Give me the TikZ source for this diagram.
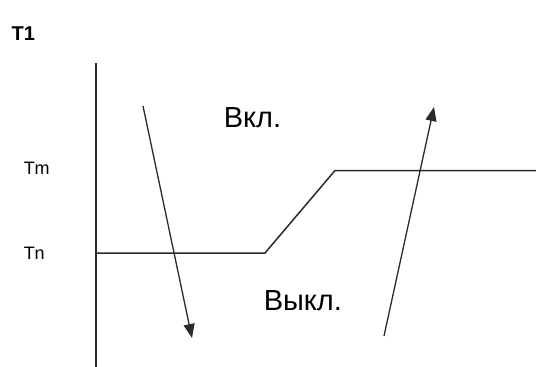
\documentclass[tikz,border=0pt]{standalone}
\usepackage{fontspec}
\setmainfont{Liberation Sans}
\usetikzlibrary{arrows.meta,positioning,calc}
\definecolor{LineGray}{HTML}{2A2A2A}

\begin{document}
\begin{tikzpicture}[x=1pt,y=-1pt,>={Triangle[length=14pt,width=11pt]},line width=1.5pt]
\useasboundingbox (0,0) rectangle (536,367);
% axis and labels
\coordinate (axtop) at (96,63);
\coordinate (axbot) at (96,367);
\draw[LineGray] (axtop) -- (axbot);
\node[font=\bfseries\fontsize{20}{24}\selectfont,anchor=west,inner sep=0] (tone) at (11,34) {T1};
\node[font=\fontsize{18}{22}\selectfont,anchor=west,inner sep=0] (tm) at (23,168.5) {Tm};
\node[font=\fontsize{18}{22}\selectfont,anchor=west,inner sep=0] (tn) at (23,253) {Tn};
% switching curve
\coordinate (c0) at (96,253);
\coordinate (c1) at (265,253);
\coordinate (c2) at (335,170.5);
\coordinate (c3) at (536,170.5);
\draw[LineGray] (c0) -- (c1) -- (c2) -- (c3);
% arrows
\coordinate (dstart) at (143,106);
\coordinate (dend) at (192,338);
\coordinate (ustart) at (384,336);
\coordinate (uend) at (434,107);
\draw[->,LineGray,line width=1.3pt] (dstart) -- (dend);
\draw[->,LineGray,line width=1.3pt] (ustart) -- (uend);
\node[font=\fontsize{29}{34}\selectfont,anchor=west,inner sep=0] (on) at (223,117.5) {Вкл.};
\node[font=\fontsize{29}{34}\selectfont,anchor=west,inner sep=0] (off) at (263,301) {Выкл.};
\end{tikzpicture}
\end{document}
